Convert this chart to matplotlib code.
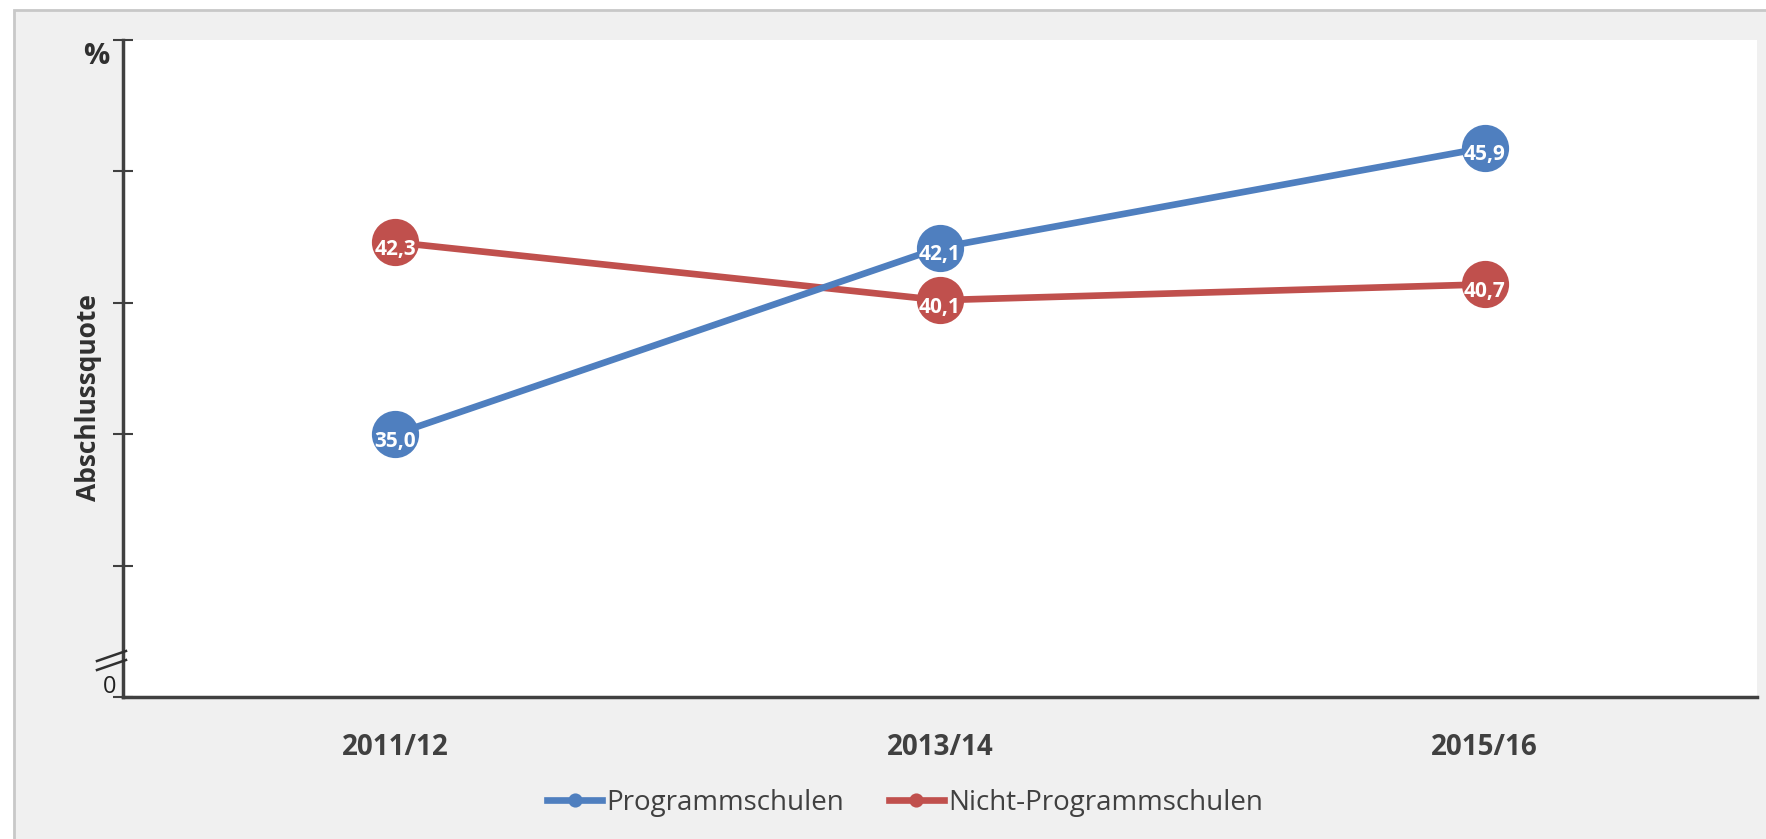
import matplotlib.pyplot as plt
from matplotlib.patches import Rectangle
from matplotlib.lines import Line2D

plt.rcParams['font.family'] = ['Open Sans', 'DejaVu Sans']

# Data
years = ["2011/12", "2013/14", "2015/16"]
programm = [35.0, 42.1, 45.9]
nicht_programm = [42.3, 40.1, 40.7]
series_names = ["Programmschulen", "Nicht-Programmschulen"]
y_ticks = [25, 30, 35, 40, 45, 50]

blue = "#4f7fbf"
red = "#c0504d"
axis_col = "#404040"

fig = plt.figure(figsize=(17.66, 8.39), dpi=100, facecolor="white")

# light grey panel with thin border behind everything
fig.patches.append(Rectangle((14 / 1766, -0.1), 1.1, 1.1 - 10 / 839,
                             transform=fig.transFigure, facecolor="#f0f0f0",
                             edgecolor="#c8c8c8", linewidth=2, zorder=-10))

ax = fig.add_axes([123 / 1766, 1 - 697 / 839, (1757 - 123) / 1766, (697 - 40) / 839])
ax.set_facecolor("white")

x = list(range(len(years)))
for vals, col, name, z in [(programm, blue, series_names[0], 4),
                           (nicht_programm, red, series_names[1], 3)]:
    ax.plot(x, vals, color=col, linewidth=4.8, marker="o", markersize=34,
            markeredgewidth=0, label=name, zorder=z)
    for xi, v in zip(x, vals):
        ax.annotate(f"{v:.1f}".replace(".", ","), (xi, v), xytext=(0, -5),
                    textcoords="offset points", ha="center", va="center",
                    color="white", fontsize=15, fontweight="bold", zorder=z + 1)

ax.set_xlim(-0.5, 2.5)
ax.set_ylim(25, 50)
ax.set_xticks(x)
ax.set_xticklabels(years, fontsize=20, fontweight="bold", color=axis_col)
ax.tick_params(axis="x", length=0, pad=26)
ax.set_yticks(y_ticks)
ax.set_yticklabels([])
ax.tick_params(axis="y", direction="inout", length=14, width=1.5, color=axis_col)

for s in ["top", "right"]:
    ax.spines[s].set_visible(False)
for s in ["left", "bottom"]:
    ax.spines[s].set_color(axis_col)
    ax.spines[s].set_linewidth(2.5)

# axis break marks
for dy in (0, 9):
    fig.add_artist(Line2D([97 / 1766, 126 / 1766],
                          [1 - (670 - dy) / 839, 1 - (660 - dy) / 839],
                          color="#303030", linewidth=1.8))

fig.text(110 / 1766, 1 - 687 / 839, "0", ha="center", va="center",
         fontsize=17, color="#202020")
fig.text(96 / 1766, 1 - 56 / 839, "%", ha="center", va="center",
         fontsize=21, fontweight="bold", color="#303030")
fig.text(88 / 1766, 1 - 398 / 839, "Abschlussquote", ha="center", va="center",
         rotation=90, fontsize=19, fontweight="bold", color="#303030")

fig.legend(loc="center", bbox_to_anchor=(905 / 1766, 1 - 803 / 839), ncol=2,
           frameon=False, fontsize=20, handlelength=2.0, handletextpad=0.15,
           columnspacing=1.6, markerscale=0.3, labelcolor=axis_col)

fig.savefig("out.png", dpi=100, facecolor=fig.get_facecolor())
